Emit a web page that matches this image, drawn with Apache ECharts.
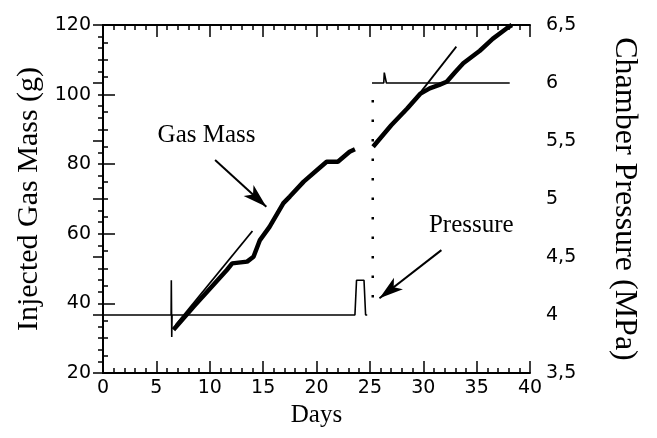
<!DOCTYPE html>
<html>
<head>
<meta charset="utf-8">
<script src="https://cdn.jsdelivr.net/npm/echarts@6/dist/echarts.min.js"></script>
<style>
html,body{margin:0;padding:0;background:#fff;}
#main{width:657px;height:438px;}
</style>
</head>
<body>
<div id="main"></div>
<script>
// injected gas mass, first and second injection period (g)
var massDays1=[6.6,8.5,11.6,12.1,13.5,14.1,14.7,15.6,16.9,17.5,18.8,20.0,20.95,22.0,23.1,23.6];
var massVals1=[32.4,39.1,49.6,51.5,52.0,53.4,58.2,62.0,68.8,70.7,75.0,78.2,80.7,80.7,83.6,84.3];
var massDays2=[25.3,27.0,28.5,29.7,30.6,31.5,32.2,33.0,33.75,35.3,36.5,37.8,38.3];
var massVals2=[85.0,91.2,96.0,100.2,101.8,102.8,103.7,106.5,109.0,112.6,116.0,119.0,120.0];
// thin fitted lines
var fitDays1=[6.8,14.0];
var fitVals1=[33.8,60.8];
var fitDays2=[28.2,33.1];
var fitVals2=[94.6,113.8];
// chamber pressure (MPa)
var presDays1=[0,6.38,6.40,6.44,6.47,23.6,23.75,24.45,24.6,24.75];
var presVals1=[4.0,4.0,4.3,3.81,4.0,4.0,4.3,4.3,4.0,4.0];
var presDays2=[25.2,26.3,26.35,26.5,26.55,38.1];
var presVals2=[6.0,6.0,6.09,6.09,6.0,6.0];
var jumpDays=[25.27,25.27];
var jumpVals=[4.15,6.0];

function pairs(xs,ys){
  var out=[];
  for(var i=0;i<xs.length;i++) out.push([xs[i],ys[i]]);
  return out;
}

var serif='"Liberation Serif", "DejaVu Serif", serif';
var sans='"DejaVu Sans", "Liberation Sans", sans-serif';

var chart=echarts.init(document.getElementById('main'),null,{renderer:'canvas'});
var option={
  animation:false,
  backgroundColor:'#fff',
  grid:{left:103,right:127,top:25,bottom:65},
  xAxis:[
    {
      type:'value',min:0,max:40,interval:5,
      name:'Days',nameLocation:'middle',nameGap:30,
      nameTextStyle:{fontFamily:serif,fontSize:25,color:'#000'},
      axisLine:{lineStyle:{color:'#000',width:2}},
      axisTick:{inside:true,length:12,lineStyle:{color:'#000',width:1.5}},
      minorTick:{show:true,splitNumber:5,length:5,lineStyle:{color:'#000',width:1.5}},
      axisLabel:{fontFamily:sans,fontSize:19,color:'#000',margin:6},
      splitLine:{show:false}
    },
    {
      type:'value',min:0,max:40,interval:5,position:'top',
      axisLine:{lineStyle:{color:'#000',width:2}},
      axisTick:{inside:true,length:12,lineStyle:{color:'#000',width:1.5}},
      minorTick:{show:true,splitNumber:5,length:5,lineStyle:{color:'#000',width:1.5}},
      axisLabel:{show:false},
      splitLine:{show:false}
    }
  ],
  yAxis:[
    {
      type:'value',min:20,max:120,interval:20,
      name:'Injected Gas Mass (g)',nameLocation:'middle',nameGap:58,
      nameTextStyle:{fontFamily:serif,fontSize:30,color:'#000'},
      axisLine:{lineStyle:{color:'#000',width:2}},
      axisTick:{inside:true,length:12,lineStyle:{color:'#000',width:1.5}},
      minorTick:{show:true,splitNumber:4,length:5,lineStyle:{color:'#000',width:1.5}},
      axisLabel:{fontFamily:sans,fontSize:19,color:'#000',margin:12},
      splitLine:{show:false}
    },
    {
      type:'value',min:3.5,max:6.5,interval:0.5,position:'right',
      name:'Chamber Pressure (MPa)',nameLocation:'middle',nameGap:78,nameRotate:-90,
      nameTextStyle:{fontFamily:serif,fontSize:32,color:'#000'},
      axisLine:{lineStyle:{color:'#000',width:2}},
      axisTick:{inside:true,length:10,lineStyle:{color:'#000',width:1.5}},
      minorTick:{show:true,splitNumber:5,length:5,lineStyle:{color:'#000',width:1.5}},
      axisLabel:{fontFamily:sans,fontSize:19,color:'#000',margin:16,
        formatter:function(v){return String(v).replace('.',',');}},
      splitLine:{show:false}
    }
  ],
  series:[
    {
      name:'Gas Mass',type:'line',data:pairs(massDays1,massVals1),
      showSymbol:false,lineStyle:{color:'#000',width:4.5},
      markPoint:{
        symbol:'circle',symbolSize:0,
        label:{show:true,position:'inside',formatter:'{b}',
          fontFamily:serif,fontSize:25,color:'#000'},
        data:[
          {name:'Gas Mass',coord:[9.7,88.4]},
          {name:'Pressure',coord:[34.5,62.5]}
        ]
      },
      markLine:{
        silent:true,symbol:['none','arrow'],symbolSize:[11,24],
        label:{show:false},
        lineStyle:{color:'#000',width:2,type:'solid'},
        data:[
          [{coord:[10.5,81.2]},{coord:[15.3,67.8]}],
          [{coord:[31.7,55.3]},{coord:[25.9,41.5]}]
        ]
      }
    },
    {
      name:'Gas Mass 2',type:'line',data:pairs(massDays2,massVals2),
      showSymbol:false,lineStyle:{color:'#000',width:4.5}
    },
    {
      name:'Fit 1',type:'line',data:pairs(fitDays1,fitVals1),
      showSymbol:false,lineStyle:{color:'#000',width:1.8}
    },
    {
      name:'Fit 2',type:'line',data:pairs(fitDays2,fitVals2),
      showSymbol:false,lineStyle:{color:'#000',width:1.8}
    },
    {
      name:'Pressure',type:'line',yAxisIndex:1,data:pairs(presDays1,presVals1),
      showSymbol:false,lineStyle:{color:'#000',width:1.6}
    },
    {
      name:'Pressure 2',type:'line',yAxisIndex:1,data:pairs(presDays2,presVals2),
      showSymbol:false,lineStyle:{color:'#000',width:1.6}
    },
    {
      name:'Pressure jump',type:'line',yAxisIndex:1,data:pairs(jumpDays,jumpVals),
      showSymbol:false,lineStyle:{color:'#000',width:2.5,type:[2.5,17]}
    }
  ]
};
chart.setOption(option);
</script>
</body>
</html>
